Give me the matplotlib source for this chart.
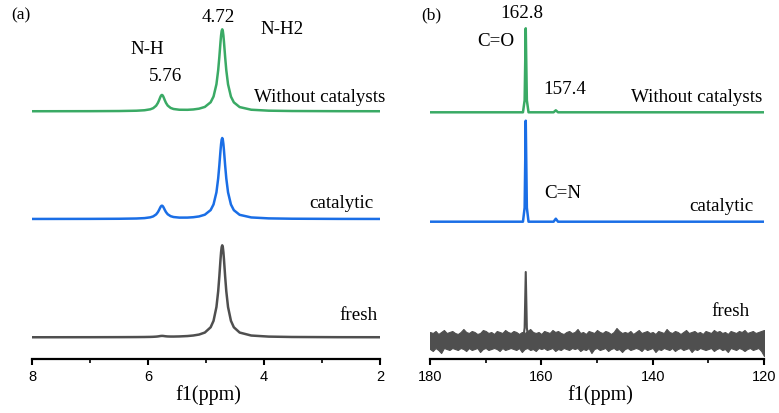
import numpy as np
import matplotlib
matplotlib.use('Agg')
import matplotlib.pyplot as plt
from matplotlib.ticker import MultipleLocator

# ---- 1H NMR (panel a): shift grid (ppm) and intensities
h_ppm = [8.0, 7.0, 6.5, 6.2, 6.06, 5.96, 5.91, 5.86, 5.83, 5.81, 5.79, 5.78, 5.77,
         5.76, 5.75, 5.74, 5.73, 5.71, 5.69, 5.66, 5.61, 5.56, 5.46, 5.32, 5.22,
         5.12, 5.02, 4.92, 4.87, 4.82, 4.79, 4.77, 4.75, 4.74, 4.73, 4.72, 4.71,
         4.70, 4.69, 4.67, 4.65, 4.62, 4.57, 4.52, 4.42, 4.22, 3.92, 3.52, 2.72, 2.0]
h_without = [0.05, 0.13, 0.27, 0.58, 1.05, 2.0, 3.15, 5.57, 8.33, 10.93, 13.87, 15.15, 16.04,
             16.36, 16.05, 15.18, 13.91, 11.0, 8.43, 5.71, 3.37, 2.31, 1.56, 1.50, 1.83,
             2.63, 4.37, 9.05, 14.78, 27.07, 41.08, 54.28, 69.29, 75.85, 80.36, 82.0, 80.36,
             75.85, 69.29, 54.28, 41.0, 26.98, 14.68, 8.94, 4.23, 1.57, 0.62, 0.28, 0.10, 0.05]
h_catalytic = [0.05, 0.12, 0.24, 0.50, 0.89, 1.68, 2.61, 4.58, 6.82, 8.94, 11.33, 12.37, 13.09,
               13.36, 13.1, 12.4, 11.37, 9.02, 6.92, 4.73, 2.83, 1.98, 1.39, 1.41, 1.77,
               2.56, 4.30, 8.92, 14.58, 26.72, 40.57, 53.62, 68.45, 74.93, 79.38, 81.0, 79.38,
               74.93, 68.45, 53.62, 40.5, 26.65, 14.5, 8.83, 4.18, 1.56, 0.62, 0.28, 0.10, 0.05]
h_fresh = [0.04, 0.09, 0.15, 0.23, 0.30, 0.40, 0.50, 0.68, 0.86, 1.04, 1.25, 1.33, 1.38,
           1.41, 1.40, 1.36, 1.29, 1.12, 0.98, 0.84, 0.75, 0.74, 0.87, 1.25, 1.79,
           2.74, 4.75, 10.03, 16.47, 30.27, 46.0, 60.9, 77.74, 85.1, 90.16, 92.0, 90.16,
           85.1, 77.74, 60.9, 46.0, 30.27, 16.47, 10.03, 4.75, 1.77, 0.70, 0.31, 0.11, 0.06]

# ---- 13C NMR (panel b)
c_ppm = [180.0, 163.3, 163.0, 162.8, 162.6, 162.3, 157.8, 157.4, 157.0, 120.0]
c_without = [0, 0, 12, 84, 12, 0, 0, 2, 0, 0]
c_catalytic = [0, 0, 14, 101, 14, 0, 0, 3, 0, 0]
c_fresh_peak_ppm = [163.3, 163.0, 162.8, 162.6, 162.3]
c_fresh_peak = [0, 12, 68, 12, 0]
# noise envelope of the fresh sample (every 0.5 ppm, 180 -> 120)
c_fresh_upper = [8, 7, 9, 6, 8, 10, 7, 8, 9, 7,
                 6, 8, 11, 8, 7, 9, 8, 6, 7, 10,
                 9, 7, 8, 6, 9, 8, 7, 10, 8, 7,
                 9, 8, 6, 8, 7, 9, 11, 8, 7, 8,
                 6, 9, 8, 7, 10, 8, 9, 7, 6, 8,
                 9, 7, 8, 11, 7, 8, 6, 9, 8, 7,
                 10, 8, 7, 9, 8, 6, 8, 12, 9, 7,
                 8, 7, 9, 6, 8, 10, 7, 8, 9, 7,
                 8, 6, 9, 8, 7, 11, 8, 7, 9, 8,
                 6, 8, 10, 7, 8, 9, 7, 8, 6, 9,
                 8, 7, 10, 8, 9, 7, 8, 6, 9, 8,
                 7, 9, 8, 10, 7, 8, 9, 7, 8, 9,
                 10]
c_fresh_lower = [9, 11, 8, 10, 13, 8, 9, 10, 8, 9,
                 10, 8, 9, 11, 8, 10, 9, 8, 12, 9,
                 8, 10, 9, 8, 9, 11, 8, 10, 9, 8,
                 9, 10, 8, 12, 9, 8, 10, 9, 11, 8,
                 9, 8, 10, 9, 8, 11, 9, 10, 8, 9,
                 10, 8, 9, 8, 11, 9, 10, 8, 13, 9,
                 8, 10, 9, 8, 11, 9, 8, 10, 9, 12,
                 9, 8, 10, 9, 8, 9, 11, 8, 10, 9,
                 8, 12, 9, 10, 8, 9, 10, 8, 11, 9,
                 8, 10, 9, 8, 12, 9, 10, 8, 9, 10,
                 9, 8, 11, 9, 8, 10, 9, 12, 8, 9,
                 10, 8, 9, 11, 9, 8, 10, 9, 8, 11,
                 16]

labels = ['Without catalysts', 'catalytic', 'fresh']
colors = ['#3aaa65', '#1a6ee6', '#4f4f4f']

W, H = 779, 414
fig = plt.figure(figsize=(W / 100, H / 100), dpi=100)
serif = ['Liberation Serif', 'DejaVu Serif']
narrow = ['Liberation Sans Narrow', 'Liberation Sans', 'DejaVu Sans']


def px(x, y):
    return x / W, 1 - y / H


def style_axis(ax, lo, hi, major, minor):
    ax.set_xlim(lo, hi)
    ax.set_ylim(0, 360)
    for s in ['left', 'right', 'top']:
        ax.spines[s].set_visible(False)
    ax.spines['bottom'].set_linewidth(1.6)
    ax.set_yticks([])
    ax.xaxis.set_major_locator(MultipleLocator(major))
    ax.xaxis.set_minor_locator(MultipleLocator(minor))
    ax.tick_params(axis='x', which='major', direction='out', length=4.5, width=1.5, pad=2.5,
                   labelsize=10.5)
    ax.tick_params(axis='x', which='minor', direction='out', length=3, width=1.2)
    for t in ax.get_xticklabels():
        t.set_family(narrow)
    ax.patch.set_alpha(0)


# panel a
ax1 = fig.add_axes([32 / W, 54 / H, 348 / W, 360 / H])
offs_a = [247.7, 140, 21.7]
for ys, off, c in zip([h_without, h_catalytic, h_fresh], offs_a, colors):
    ax1.plot(h_ppm, np.array(ys) + off, color=c, lw=1.8, solid_joinstyle='round')
style_axis(ax1, 8, 2, 2, 1)

# panel b
ax2 = fig.add_axes([430 / W, 54 / H, 334 / W, 360 / H])
offs_b = [246.7, 137.3, 19]
for ys, off, c in zip([c_without, c_catalytic], offs_b[:2], colors[:2]):
    ax2.plot(c_ppm, np.array(ys) + off, color=c, lw=1.8)
xn = np.linspace(180, 120, len(c_fresh_upper))
ax2.fill_between(xn, offs_b[2] - np.array(c_fresh_lower), offs_b[2] + np.array(c_fresh_upper),
                 color=colors[2], lw=0.8, edgecolor=colors[2])
ax2.plot(c_fresh_peak_ppm, np.array(c_fresh_peak) + offs_b[2], color=colors[2], lw=1.5)
style_axis(ax2, 180, 120, 20, 10)

fs = 13.7
# panel a texts
fig.text(*px(11, 15), '(a)', family=serif, fontsize=12.5, va='center')
fig.text(*px(218, 17), '4.72', family=serif, fontsize=fs, ha='center', va='center')
fig.text(*px(282, 29), 'N-H2', family=serif, fontsize=fs, ha='center', va='center')
fig.text(*px(147, 50), 'N-H', family=serif, fontsize=fs, ha='center', va='center')
fig.text(*px(166, 77), '5.76', family=serif, fontsize=fs, ha='center', va='center')
fig.text(*px(385, 97), labels[0], family=serif, fontsize=fs, ha='right', va='center')
fig.text(*px(373, 204), labels[1], family=serif, fontsize=fs, ha='right', va='center')
fig.text(*px(378, 316), labels[2], family=serif, fontsize=fs, ha='right', va='center')
fig.text(*px(208, 395), 'f1(ppm)', family=serif, fontsize=14.5, ha='center', va='center')

# panel b texts
fig.text(*px(421, 15), '(b)', family=serif, fontsize=12.5, va='center')
fig.text(*px(522, 13), '162.8', family=serif, fontsize=fs, ha='center', va='center')
fig.text(*px(496, 42), 'C=O', family=serif, fontsize=fs, ha='center', va='center')
fig.text(*px(565, 90), '157.4', family=serif, fontsize=fs, ha='center', va='center')
fig.text(*px(762, 97), labels[0], family=serif, fontsize=fs, ha='right', va='center')
fig.text(*px(563, 193), 'C=N', family=serif, fontsize=fs, ha='center', va='center')
fig.text(*px(754, 207), labels[1], family=serif, fontsize=fs, ha='right', va='center')
fig.text(*px(750, 312), labels[2], family=serif, fontsize=fs, ha='right', va='center')
fig.text(*px(600, 395), 'f1(ppm)', family=serif, fontsize=14.5, ha='center', va='center')

fig.savefig('out.png', dpi=100)
